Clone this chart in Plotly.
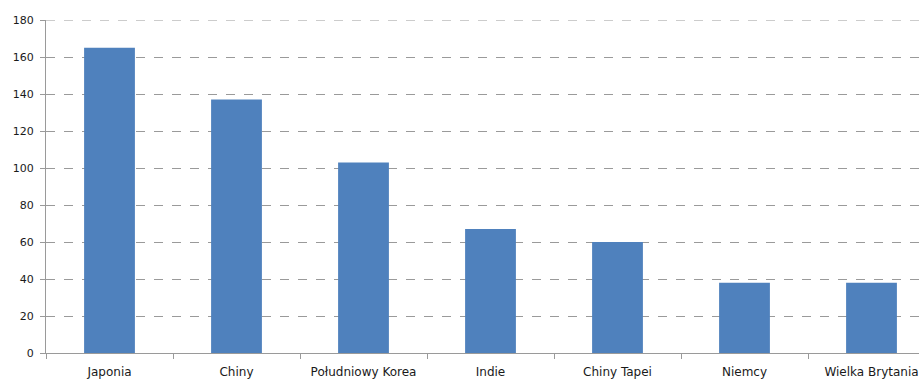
import plotly.graph_objects as go

# Categories and values
countries = ["Japonia", "Chiny", "Południowy Korea", "Indie", "Chiny Tapei", "Niemcy", "Wielka Brytania"]
values = [165, 137, 103, 67, 60, 38, 38]
y_ticks = [0, 20, 40, 60, 80, 100, 120, 140, 160, 180]
y_max = 180

fig = go.Figure(
    go.Bar(
        x=countries,
        y=values,
        marker=dict(color="#4F81BD", line=dict(width=0)),
        width=0.4,
    )
)

font_family = "DejaVu Sans, Verdana, sans-serif"
grid_color = "#9a9a9a"

# Plotly drops the grid line sitting on the top edge, so draw it explicitly
fig.add_shape(
    type="line", xref="paper", yref="y",
    x0=0, x1=1, y0=y_max, y1=y_max,
    line=dict(color=grid_color, width=1, dash="dash"),
    layer="below",
)

fig.update_layout(
    width=919,
    height=379,
    margin=dict(l=46, r=0, t=20, b=26),
    paper_bgcolor="white",
    plot_bgcolor="white",
    showlegend=False,
    xaxis=dict(
        type="category",
        range=[-0.5, 6.374],
        showline=True,
        linecolor=grid_color,
        linewidth=1,
        ticks="outside",
        tickson="boundaries",
        ticklen=5,
        tickcolor=grid_color,
        showgrid=False,
        tickfont=dict(family=font_family, size=12, color="#1a1a1a"),
        ticklabelstandoff=8,
    ),
    yaxis=dict(
        range=[0, y_max],
        tickvals=y_ticks,
        showline=True,
        linecolor=grid_color,
        linewidth=1,
        ticks="outside",
        ticklen=5,
        tickcolor=grid_color,
        showgrid=True,
        gridcolor=grid_color,
        griddash="dash",
        gridwidth=1,
        zeroline=False,
        tickfont=dict(family=font_family, size=11, color="#1a1a1a"),
        ticklabelstandoff=4,
    ),
)

fig.write_html("out.html")
